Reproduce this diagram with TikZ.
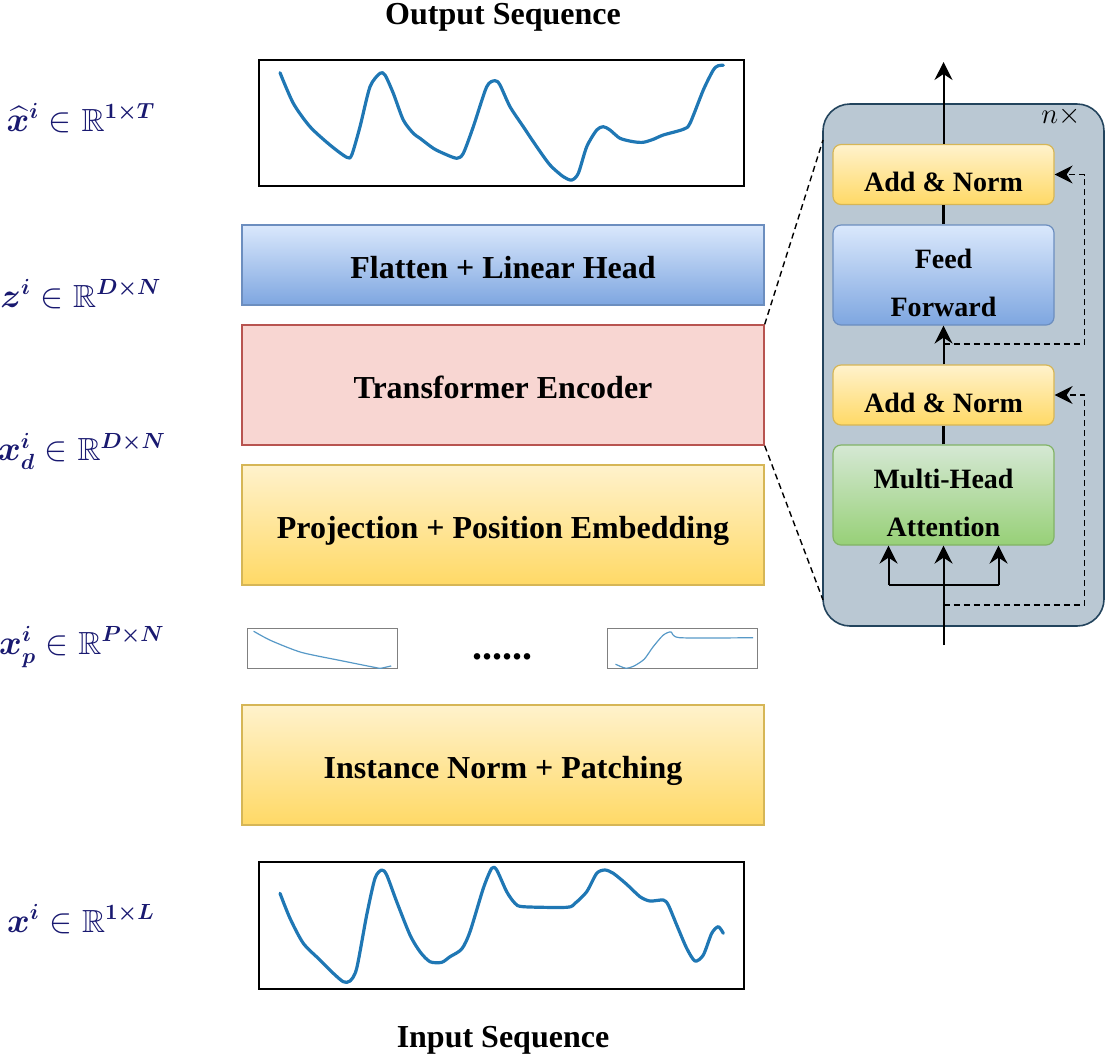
\documentclass[tikz,border=0pt]{standalone}
\usepackage{amsmath,amssymb,bm}
\usepackage[no-math]{fontspec}
\setmainfont{Liberation Serif}
\usetikzlibrary{arrows.meta, positioning, calc}
\definecolor{ylwtop}{HTML}{FFF2CC}
\definecolor{ylwbot}{HTML}{FFD966}
\definecolor{ylwln}{HTML}{D6B656}
\definecolor{blutop}{HTML}{DAE8FC}
\definecolor{blubot}{HTML}{7EA6E0}
\definecolor{bluln}{HTML}{6C8EBF}
\definecolor{grntop}{HTML}{D5E8D4}
\definecolor{grnbot}{HTML}{97D077}
\definecolor{grnln}{HTML}{82B366}
\definecolor{redfl}{HTML}{F8D6D2}
\definecolor{redln}{HTML}{B85450}
\definecolor{pnlfl}{HTML}{BAC8D3}
\definecolor{pnlln}{HTML}{23445D}
\definecolor{crv}{HTML}{1F77B4}
\definecolor{lbl}{RGB}{25,25,112}
\tikzset{
  blk/.style = {minimum width=261pt, minimum height=60pt, inner sep=0pt,
    text height=13pt, text depth=0pt,
    font=\fontsize{16}{19}\selectfont\bfseries, line width=0.7pt},
  ylw/.style = {blk, draw=ylwln, top color=ylwtop, bottom color=ylwbot},
  blu/.style = {blk, draw=bluln, top color=blutop, bottom color=blubot},
  red/.style = {blk, draw=redln, fill=redfl},
  seq/.style = {draw=black, line width=1pt, minimum width=242.5pt,
    minimum height=63pt, inner sep=0pt},
  pch/.style = {draw=black!50, line width=0.5pt, minimum width=75pt,
    minimum height=20pt, inner sep=0pt},
  sig/.style = {draw=crv, line width=1.6pt, line join=round, line cap=round},
  psig/.style = {draw=crv!75, line width=0.6pt, line join=round},
  lab/.style = {text=lbl, font=\fontsize{16}{19}\selectfont},
  ttl/.style = {font=\fontsize{16}{19}\selectfont\bfseries}
}
\tikzset{
  tf/.style = {minimum width=110.5pt, inner sep=0pt, rounded corners=4pt,
    line width=0.6pt, align=center, font=\fontsize{14}{24}\selectfont\bfseries},
  tfylw/.style = {tf, draw=ylwln, top color=ylwtop, bottom color=ylwbot,
    minimum height=30pt, text height=17.5pt},
  tfblu/.style = {tf, draw=bluln, top color=blutop, bottom color=blubot,
    minimum height=50pt, text height=41.5pt},
  tfgrn/.style = {tf, draw=grnln, top color=grntop, bottom color=grnbot,
    minimum height=50pt, text height=41.5pt},
  tfarr/.style = {-{Stealth[length=9pt, width=9pt, inset=3pt]}, line width=1pt},
  tfres/.style = {-{Stealth[length=9pt, width=9pt, inset=3pt]}, line width=0.8pt,
    dash pattern=on 3pt off 2pt},
  tfstub/.style = {line width=1.8pt},
  zoomln/.style = {line width=0.7pt, dash pattern=on 3pt off 2pt}
}

\begin{document}
\begin{tikzpicture}[x=0.5pt, y=-0.5pt]
  \useasboundingbox (0,0) rectangle (1106,1056);
  % main stack
  \node [ttl] (otitle) at (503,17) {Output Sequence};
  \node [seq] (out) at (501.5,123) {};
  \node [blu, minimum height=40pt] (head) at (503,265) {Flatten + Linear Head};
  \node [red] (enc) at (503,385) {Transformer Encoder};
  \node [ylw] (proj) at (503,525) {Projection + Position Embedding};
  \node [pch] (p1) at (322,648.5) {};
  \node [pch] (p2) at (682.5,648.5) {};
  \node [font=\fontsize{20}{20}\selectfont\bfseries] (dots) at (502,657) {......};
  \node [ylw] (inorm) at (503,765) {Instance Norm + Patching};
  \node [seq, minimum height=63.5pt] (in) at (501.5,925.5) {};
  \node [ttl] (ititle) at (503,1040) {Input Sequence};
  % shapes on the left
  \node [lab] (lo) at (81,118) {$\widehat{\bm{x}}^{\bm{i}}\in\mathbb{R}^{\bm{1\times T}}$};
  \node [lab] (lz) at (81,294) {$\bm{z}^{\bm{i}}\in\mathbb{R}^{\bm{D\times N}}$};
  \node [lab] (ld) at (82,451) {$\bm{x}^{\bm{i}}_{\bm{d}}\in\mathbb{R}^{\bm{D\times N}}$};
  \node [lab] (lp) at (82,647) {$\bm{x}^{\bm{i}}_{\bm{p}}\in\mathbb{R}^{\bm{P\times N}}$};
  \node [lab] (li) at (81,919) {$\bm{x}^{\bm{i}}\in\mathbb{R}^{\bm{1\times L}}$};
  % series
  \draw [sig] plot [smooth, tension=0.45] coordinates {(280,72.7) (293.3,103.3)
    (310,126.7) (330,145) (346.7,157.3) (351.7,155) (360,126.7) (370,86.7)
    (380,73.3) (385,75) (393.3,93.3) (403.3,120) (413.3,133.3) (420,138.3)
    (433.3,148.3) (443.3,153.3) (456.7,158.3) (463.3,153.3) (473.3,126.7)
    (486.7,86.7) (495,80.7) (500,85) (510,106.7) (523.3,126.7) (536.7,146.7)
    (550,165) (563.3,176.7) (571.7,180) (578.3,173.3) (586.7,146.7) (596.7,130)
    (603.3,126.7) (610,130) (620,138.3) (633.3,141.7) (643.3,142.3)
    (653.3,139.3) (663.3,135) (683.3,129.3) (690,123.3) (703.3,90) (713.3,70)
    (718.3,65.7) (723.3,65.3)};
  \draw [sig] plot [smooth, tension=0.45] coordinates {(280,893.3) (290,918.3)
    (303.3,943.3) (320,960) (333.3,973.3) (343.3,981.7) (350,981) (356.7,968.3)
    (366.7,915) (375,878.3) (381.7,870) (386.7,875) (396.7,901.7) (410,935)
    (420,951.7) (430,961.7) (441.7,962.3) (450,956.7) (461.7,949) (470,931.7)
    (483.3,888.3) (491.7,868.3) (496.7,870) (506.7,891.7) (515,903.3)
    (523.3,906.7) (566.7,907.3) (575,903.3) (586.7,891.7) (596.7,873.3)
    (605,870) (613.3,873.3) (626.7,884.3) (640,896.7) (650,901) (663.3,900)
    (668.3,905) (676.7,925) (686.7,948.3) (695,961) (703.3,955) (711.7,933.3)
    (718.3,926.7) (723.3,933.3)};
  \draw [psig] plot [smooth, tension=0.4] coordinates {(253.6,631.2)
    (270.6,640.4) (301.2,652.3) (341.9,660.8) (375.9,667.6) (381,668.2)
    (391.2,665.9)};
  \draw [psig] plot [smooth, tension=0.4] coordinates {(615.5,664.2)
    (625.7,668.2) (634.2,665.9) (644.3,659.1) (652.8,647.2) (663,635.3)
    (670.9,631.9) (680,637.7) (753,637.7)};
  % encoder detail
  \node [draw=pnlln, fill=pnlfl, line width=0.8pt, rounded corners=13.5pt,
    minimum width=140.5pt, minimum height=261pt] (pnl) at (963.5,365) {};
  \node [font=\fontsize{14}{14}\selectfont] (rep) at (1061,116) {$n\times$};
  \node [tfylw] (an1) at (943.5,174.5) {Add \& Norm};
  \node [tfblu] (ff) at (943.5,275) {Feed\\Forward};
  \node [tfylw] (an2) at (943.5,395) {Add \& Norm};
  \node [tfgrn] (mha) at (943.5,495) {Multi-Head\\Attention};
  \coordinate (top) at (943.5,62);
  \coordinate (bot) at (943.5,645);
  \coordinate (fork) at (943.5,585);
  \coordinate (rs1) at (943.5,605);
  \coordinate (rs2) at (943.5,344);
  \draw [zoomln] (enc.north east) -- (823,140);
  \draw [zoomln] (enc.south east) -- (823,600);
  \draw [tfarr] (an1.north) -- (top);
  \draw [tfstub] (an1.south) -- (ff.north);
  \draw [tfarr] (an2.north) -- (ff.south);
  \draw [tfstub] (mha.north) -- (an2.south);
  \draw [tfarr] (bot) -- (mha.south);
  \draw [line width=1pt] ($(fork)+(-55,0)$) -- ($(fork)+(55,0)$);
  \draw [tfarr] ($(fork)+(-55,0)$) -- ($(mha.south)+(-55,0)$);
  \draw [tfarr] ($(fork)+(55,0)$) -- ($(mha.south)+(55,0)$);
  \draw [tfres] (rs1) -| ($(an2.east)+(30,0)$) -- (an2.east);
  \draw [tfres] (rs2) -| ($(an1.east)+(30,0)$) -- (an1.east);
\end{tikzpicture}
\end{document}
